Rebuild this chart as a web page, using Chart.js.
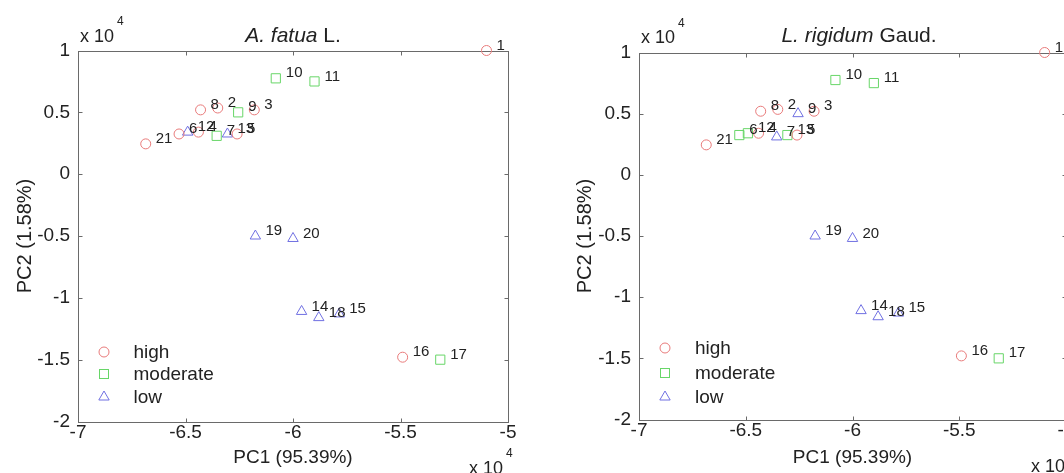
<!DOCTYPE html>
<html>
<head>
<meta charset="utf-8">
<script src="https://cdn.jsdelivr.net/npm/chart.js@4.4.1/dist/chart.umd.min.js"></script>
<style>
  html, body { margin: 0; padding: 0; background: #fff; }
  body { width: 1064px; height: 473px; overflow: hidden; position: relative;
         font-family: "Liberation Sans", Arial, sans-serif; color: #222; }
  canvas { position: absolute; top: 0; }
  .txt { position: absolute; white-space: nowrap; font-size: 18px; line-height: 1; }
  .title { font-size: 21px; transform: translateX(-50%); }
  .sup { position: absolute; font-size: 12px; line-height: 1; }
  .legend { position: absolute; font-size: 19px; line-height: 1; }
  .legend div { position: absolute; white-space: nowrap; }
  .legend svg { position: absolute; overflow: visible; }
</style>
</head>
<body>
<canvas id="fatua" width="532" height="473" style="left:0"></canvas>
<canvas id="rigidum" width="540" height="473" style="left:560px"></canvas>

<div class="txt title" style="left:293px; top:24px"><i>A. fatua</i> L.</div>
<div class="txt title" style="left:859px; top:24px"><i>L. rigidum</i> Gaud.</div>

<div class="txt" style="left:80px; top:27px">x 10</div><div class="sup" style="left:117px; top:15px">4</div>
<div class="txt" style="left:641px; top:28px">x 10</div><div class="sup" style="left:678px; top:17px">4</div>
<div class="txt" style="left:469px; top:459px">x 10</div><div class="sup" style="left:506px; top:447px">4</div>
<div class="txt" style="left:1031px; top:457px">x 10</div><div class="sup" style="left:1068px; top:445px">4</div>

<div class="legend" id="legFatua"></div>
<div class="legend" id="legRigidum"></div>

<script>
// sample numbers and PCA scores (x 10^4)
const sampleIds = ['1','2','3','4','5','6','7','8','9','10','11','12','13','14','15','16','17','18','19','20','21'];
const pc1 = [-5.10, -6.35, -6.18, -6.44, -6.26, -6.53, -6.355, -6.43, -6.255, -6.08, -5.90,
             -6.49, -6.305, -5.96, -5.785, -5.49, -5.315, -5.88, -6.175, -6.00, -6.685];
const pc2 = [1.00, 0.535, 0.52, 0.34, 0.325, 0.325, 0.31, 0.52, 0.50, 0.775, 0.75,
             0.34, 0.325, -1.11, -1.13, -1.48, -1.50, -1.16, -0.50, -0.52, 0.245];

// resistance class of each sample, per species
const groupsFatua = ['high','high','high','high','high','high','moderate','high','moderate','moderate','moderate',
                     'low','low','low','low','high','moderate','low','low','low','high'];
const groupsRigidum = ['high','high','high','high','high','moderate','low','high','low','moderate','moderate',
                       'moderate','moderate','low','low','high','moderate','low','low','low','high'];

const groupNames = ['high', 'moderate', 'low'];
const xRange = [-7, -5];
const yRange = [-2, 1];
const tickStep = 0.5;

const FONT = '"Liberation Sans", Arial, sans-serif';
const styles = {
  high:     { color: 'rgb(232,122,122)', pointStyle: 'circle',   radius: 5 },
  moderate: { color: 'rgb(104,214,104)', pointStyle: 'rect',     radius: 6.5 },
  low:      { color: 'rgb(112,112,226)', pointStyle: 'triangle', radius: 6 }
};

function fmt(v) {
  var s = String(Math.round(v * 10) / 10);
  return s === '-0' ? '0' : s;
}

// box around the plot with inward tick marks on all four sides
const boxPlugin = {
  id: 'box',
  beforeDatasetsDraw(chart) {
    const {ctx, chartArea: a, scales: {x, y}} = chart;
    const L = Math.round(a.left) + 0.5, R = Math.round(a.right) + 0.5;
    const T = Math.round(a.top) + 0.5, B = Math.round(a.bottom) + 0.5;
    ctx.save();
    ctx.strokeStyle = '#6a6a6a';
    ctx.lineWidth = 1;
    ctx.strokeRect(L, T, R - L, B - T);
    ctx.beginPath();
    x.ticks.forEach(function(t) {
      const px = Math.round(x.getPixelForValue(t.value)) + 0.5;
      ctx.moveTo(px, B); ctx.lineTo(px, B - 4);
      ctx.moveTo(px, T); ctx.lineTo(px, T + 4);
    });
    y.ticks.forEach(function(t) {
      const py = Math.round(y.getPixelForValue(t.value)) + 0.5;
      ctx.moveTo(L, py); ctx.lineTo(L + 4, py);
      ctx.moveTo(R, py); ctx.lineTo(R - 4, py);
    });
    ctx.stroke();
    ctx.restore();
  }
};

// sample number written to the right of each marker
const idPlugin = {
  id: 'ids',
  afterDatasetsDraw(chart) {
    const ctx = chart.ctx;
    ctx.save();
    ctx.font = '15px ' + FONT;
    ctx.fillStyle = '#222';
    ctx.textBaseline = 'middle';
    chart.data.datasets.forEach(function(ds, i) {
      chart.getDatasetMeta(i).data.forEach(function(pt, j) {
        ctx.fillText(ds.data[j].id, pt.x + 10, pt.y - 5);
      });
    });
    ctx.restore();
  }
};

function makeChart(id, groups, g) {
  const datasets = groupNames.map(function(name) {
    const s = styles[name];
    const pts = [];
    sampleIds.forEach(function(sid, i) {
      if (groups[i] === name) pts.push({ x: pc1[i], y: pc2[i], id: sid });
    });
    return {
      label: name,
      data: pts,
      pointStyle: s.pointStyle,
      pointRadius: s.radius,
      pointHoverRadius: s.radius,
      borderColor: s.color,
      backgroundColor: 'rgba(0,0,0,0)',
      pointBorderWidth: 1,
      clip: false
    };
  });

  return new Chart(document.getElementById(id), {
    type: 'scatter',
    data: { datasets: datasets },
    options: {
      responsive: false,
      animation: false,
      events: [],
      layout: { padding: { top: g.top, right: g.right, left: 0, bottom: 0 } },
      plugins: { legend: { display: false }, tooltip: { enabled: false }, title: { display: false } },
      scales: {
        x: {
          type: 'linear', min: xRange[0], max: xRange[1],
          grid: { display: false, drawTicks: false },
          border: { display: false },
          ticks: { stepSize: tickStep, padding: 0, color: '#222', font: { family: FONT, size: 19 },
                   maxRotation: 0, callback: fmt },
          title: { display: true, text: 'PC1 (95.39%)', color: '#222',
                   font: { family: FONT, size: 19 }, padding: { top: 0, bottom: 4 } },
          afterFit: function(scale) { scale.height = g.xHeight; }
        },
        y: {
          type: 'linear', min: yRange[0], max: yRange[1],
          grid: { display: false, drawTicks: false },
          border: { display: false },
          ticks: { stepSize: tickStep, padding: 8, color: '#222', font: { family: FONT, size: 19 },
                   callback: fmt },
          title: { display: true, text: 'PC2 (1.58%)', color: '#222',
                   font: { family: FONT, size: 20 }, padding: { top: 13, bottom: 0 } },
          afterFit: function(scale) { scale.width = g.yWidth; }
        }
      }
    },
    plugins: [boxPlugin, idPlugin]
  });
}

function makeLegend(elId, left, rows) {
  const box = document.getElementById(elId);
  groupNames.forEach(function(name, i) {
    const s = styles[name];
    const cy = rows[i];
    let shape;
    if (s.pointStyle === 'circle') {
      shape = '<circle cx="0" cy="0" r="5" fill="none" stroke="' + s.color + '"/>';
    } else if (s.pointStyle === 'rect') {
      shape = '<rect x="-4.5" y="-4.5" width="9" height="9" fill="none" stroke="' + s.color + '"/>';
    } else {
      shape = '<polygon points="0,-6 5.2,3 -5.2,3" fill="none" stroke="' + s.color + '"/>';
    }
    box.insertAdjacentHTML('beforeend',
      '<svg width="1" height="1" style="left:' + left + 'px; top:' + cy + 'px">' + shape + '</svg>' +
      '<div style="left:' + (left + 30) + 'px; top:' + (cy - 10) + 'px">' + name + '</div>');
  });
}

makeChart('fatua', groupsFatua, { top: 50.5, right: 24, xHeight: 51.5, yWidth: 78 });
makeChart('rigidum', groupsRigidum, { top: 52.5, right: 34, xHeight: 53.5, yWidth: 79 });

makeLegend('legFatua', 103.5, [352, 374, 397]);
makeLegend('legRigidum', 665, [348, 373, 397]);
</script>
</body>
</html>
